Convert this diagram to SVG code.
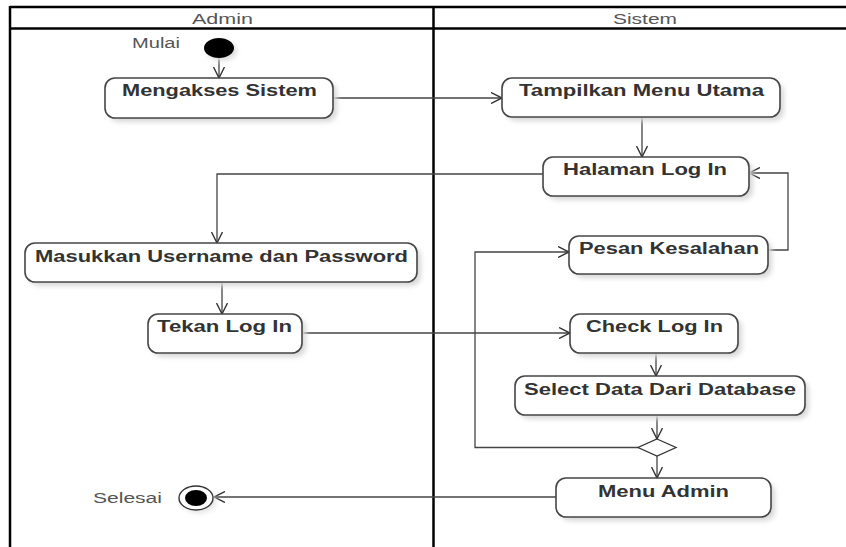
<svg xmlns="http://www.w3.org/2000/svg" width="846" height="547" viewBox="0 0 846 547">
<style>
.frame{stroke:#000;stroke-width:2.5;fill:none}
.box{fill:#fff;stroke:#454545;stroke-width:1.6}
.shadow{fill:#d8d8d8;filter:url(#blur)}
.lbl{font-family:"Liberation Sans",Arial,sans-serif;font-weight:bold;font-size:16px;fill:#333}
.hdr{font-family:"Liberation Sans",Arial,sans-serif;font-size:14px;fill:#555}
.cap{font-family:"Liberation Sans",Arial,sans-serif;font-size:14px;fill:#555}
.con{fill:none;stroke:#444;stroke-width:1.3}
</style>
<defs>
<filter id="blur" x="-20%" y="-20%" width="140%" height="140%"><feGaussianBlur stdDeviation="2.5"/></filter>
<marker id="arr" viewBox="0 0 12 12" refX="11" refY="6" markerWidth="12" markerHeight="12" markerUnits="userSpaceOnUse" orient="auto">
<path d="M0,0.5 L11,6 L0,11.5" fill="none" stroke="#333" stroke-width="1.4"/>
</marker>
</defs>
<rect width="846" height="547" fill="#fff"/>
<g id="frame">
<line class="frame" x1="10" y1="7" x2="846" y2="7"/>
<line class="frame" x1="10" y1="28.5" x2="846" y2="28.5"/>
<line class="frame" x1="10" y1="6" x2="10" y2="547"/>
<line class="frame" x1="433.5" y1="6" x2="433.5" y2="547"/>
<text class="hdr" x="192" y="24" textLength="61" lengthAdjust="spacingAndGlyphs">Admin</text>
<text class="hdr" x="613" y="24" textLength="64" lengthAdjust="spacingAndGlyphs">Sistem</text>
</g>
<g id="connectors">
<line class="con" x1="219" y1="58" x2="219" y2="78" marker-end="url(#arr)"/>
<line class="con" x1="333" y1="98" x2="502" y2="98" marker-end="url(#arr)"/>
<line class="con" x1="642" y1="117" x2="642" y2="157" marker-end="url(#arr)"/>
<polyline class="con" points="543,174 217,174 217,243" marker-end="url(#arr)"/>
<line class="con" x1="222" y1="282" x2="222" y2="314" marker-end="url(#arr)"/>
<line class="con" x1="302" y1="333" x2="570" y2="333" marker-end="url(#arr)"/>
<line class="con" x1="656" y1="353" x2="656" y2="376" marker-end="url(#arr)"/>
<line class="con" x1="657" y1="415" x2="657" y2="439" marker-end="url(#arr)"/>
<polyline class="con" points="638,447.5 475,447.5 475,252 569,252" marker-end="url(#arr)"/>
<polyline class="con" points="768,250 788,250 788,173 749,173" marker-end="url(#arr)"/>
<line class="con" x1="657" y1="456" x2="657" y2="478" marker-end="url(#arr)"/>
<line class="con" x1="556" y1="497" x2="214" y2="497" marker-end="url(#arr)"/>
</g>
<g id="start">
<ellipse cx="222" cy="51" rx="15" ry="10" fill="#ddd" filter="url(#blur)"/>
<ellipse cx="219" cy="48" rx="15" ry="10" fill="#000"/>
<text class="cap" x="132" y="48" textLength="48" lengthAdjust="spacingAndGlyphs">Mulai</text>
</g>
<g id="mengakses">
<rect class="shadow" x="109" y="82" width="228" height="40" rx="10"/>
<rect class="box" x="105" y="78" width="228" height="40" rx="10"/>
<text class="lbl" x="122" y="96" textLength="195" lengthAdjust="spacingAndGlyphs">Mengakses Sistem</text>
</g>
<g id="tampilkan">
<rect class="shadow" x="506" y="82" width="278" height="39" rx="10"/>
<rect class="box" x="502" y="78" width="278" height="39" rx="10"/>
<text class="lbl" x="519" y="96" textLength="245" lengthAdjust="spacingAndGlyphs">Tampilkan Menu Utama</text>
</g>
<g id="halaman">
<rect class="shadow" x="547" y="161" width="206" height="39" rx="10"/>
<rect class="box" x="543" y="157" width="206" height="39" rx="10"/>
<text class="lbl" x="563" y="175" textLength="164" lengthAdjust="spacingAndGlyphs">Halaman Log In</text>
</g>
<g id="masukkan">
<rect class="shadow" x="29" y="247" width="392" height="39" rx="10"/>
<rect class="box" x="25" y="243" width="392" height="39" rx="10"/>
<text class="lbl" x="35" y="262" textLength="373" lengthAdjust="spacingAndGlyphs">Masukkan Username dan Password</text>
</g>
<g id="pesan">
<rect class="shadow" x="573" y="240" width="199" height="38" rx="10"/>
<rect class="box" x="569" y="236" width="199" height="38" rx="10"/>
<text class="lbl" x="579" y="254" textLength="180" lengthAdjust="spacingAndGlyphs">Pesan Kesalahan</text>
</g>
<g id="tekan">
<rect class="shadow" x="152" y="318" width="154" height="39" rx="10"/>
<rect class="box" x="148" y="314" width="154" height="39" rx="10"/>
<text class="lbl" x="157" y="332" textLength="135" lengthAdjust="spacingAndGlyphs">Tekan Log In</text>
</g>
<g id="check">
<rect class="shadow" x="574" y="318" width="168" height="39" rx="10"/>
<rect class="box" x="570" y="314" width="168" height="39" rx="10"/>
<text class="lbl" x="586" y="332" textLength="137" lengthAdjust="spacingAndGlyphs">Check Log In</text>
</g>
<g id="select">
<rect class="shadow" x="519" y="380" width="290" height="39" rx="10"/>
<rect class="box" x="515" y="376" width="290" height="39" rx="10"/>
<text class="lbl" x="524" y="395" textLength="272" lengthAdjust="spacingAndGlyphs">Select Data Dari Database</text>
</g>
<g id="decision">
<polygon points="657,439 676,447.5 657,456 638,447.5" fill="#fff" stroke="#333" stroke-width="1.3"/>
</g>
<g id="menuadmin">
<rect class="shadow" x="560" y="482" width="215" height="39" rx="10"/>
<rect class="box" x="556" y="478" width="215" height="39" rx="10"/>
<text class="lbl" x="598" y="497" textLength="131" lengthAdjust="spacingAndGlyphs">Menu Admin</text>
</g>
<g id="end">
<ellipse cx="199" cy="501" rx="17" ry="12" fill="#e4e4e4" filter="url(#blur)"/>
<ellipse cx="196" cy="498" rx="17" ry="12" fill="#fff" stroke="#333" stroke-width="1.4"/>
<ellipse cx="196" cy="498" rx="11" ry="8" fill="#000"/>
<text class="cap" x="93" y="503" textLength="69" lengthAdjust="spacingAndGlyphs">Selesai</text>
</g>
</svg>
